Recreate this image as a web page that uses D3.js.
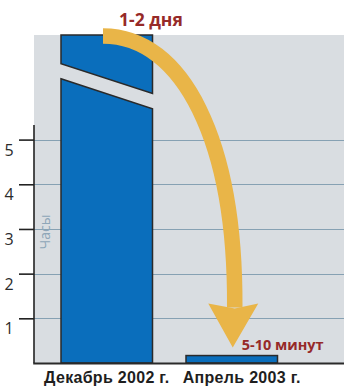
<!DOCTYPE html>
<html>
<head>
<meta charset="utf-8">
<script src="https://cdn.jsdelivr.net/npm/d3@7"></script>
<style>
  html, body { margin: 0; padding: 0; background: #fff; }
  svg { display: block; }
</style>
</head>
<body>
<svg id="chart" width="344" height="387"></svg>
<script>
// Время обработки: декабрь 2002 г. против апреля 2003 г. (в часах)
const categories = ["Декабрь 2002 г.", "Апрель 2003 г."];
const hours = [48, 10 / 60];           // 1-2 дня (столбец с разрывом) и 5-10 минут
const valueLabels = ["1-2 дня", "5-10 минут"];
const tickValues = [1, 2, 3, 4, 5];
const axisTitle = "Часы";

const svg = d3.select("#chart");
const W = 344;
const panelLeft = 34, panelTop = 35, baseY = 363;

const y = d3.scaleLinear().domain([0, 5]).range([baseY, 139.6]);
const yTop = y.invert(panelTop);                 // верх видимой области в часах

const x = d3.scaleBand()
  .domain(categories)
  .range([61, 61 + 125 * (2 - 0.268)])
  .paddingInner(0.268)
  .paddingOuter(0);

// серый фон
svg.append("rect")
  .attr("x", panelLeft).attr("y", panelTop)
  .attr("width", W - panelLeft).attr("height", baseY - panelTop)
  .attr("fill", "#d9dde1");

// линии сетки
svg.append("g").selectAll("line").data(tickValues).join("line")
  .attr("x1", panelLeft).attr("x2", W)
  .attr("y1", d => Math.round(y(d)) + 0.5).attr("y2", d => Math.round(y(d)) + 0.5)
  .attr("stroke", "#86a1b3").attr("stroke-width", 1.2);

// столбцы
const barStyle = sel => sel.attr("fill", "#0a6ebc").attr("stroke", "#2a2a2a")
  .attr("stroke-width", 1.5).attr("stroke-linejoin", "miter");

categories.forEach((c, i) => {
  const x0 = x(c), x1 = x(c) + x.bandwidth();
  const v = Math.min(hours[i], yTop);
  if (hours[i] > yTop) {
    // столбец с разрывом: верхний фрагмент и нижний фрагмент
    const brkL = 6.7, brkR = 6.03, gap = 0.34;
    svg.append("path").call(barStyle)
      .attr("d", `M${x0},${y(v)}L${x1},${y(v)}L${x1},${y(brkR)}L${x0},${y(brkL)}Z`);
    svg.append("path").call(barStyle)
      .attr("d", `M${x0},${y(brkL - gap)}L${x1},${y(brkR - gap)}L${x1},${y(0)}L${x0},${y(0)}Z`);
  } else {
    svg.append("rect").call(barStyle)
      .attr("x", x0).attr("y", y(v))
      .attr("width", x1 - x0).attr("height", y(0) - y(v));
  }
});

// ось Y
const axis = d3.axisLeft(y).tickValues(tickValues).tickSize(15).tickFormat(d3.format("d"));
const gAxis = svg.append("g").attr("transform", `translate(${panelLeft},0)`).call(axis);
gAxis.select(".domain").remove();
gAxis.selectAll(".tick line").attr("stroke", "#222").attr("stroke-width", 1.6);
gAxis.selectAll(".tick text")
  .attr("x", -25).attr("y", 10).attr("dy", "0.35em")
  .attr("text-anchor", "middle")
  .attr("fill", "#2b2b2b")
  .style("font-family", "'Open Sans', 'Noto Sans', sans-serif")
  .style("font-size", "16px");

svg.append("line")
  .attr("x1", panelLeft).attr("x2", panelLeft)
  .attr("y1", 125).attr("y2", baseY)
  .attr("stroke", "#222").attr("stroke-width", 1.6);

// базовая линия
svg.append("line")
  .attr("x1", panelLeft - 0.8).attr("x2", W)
  .attr("y1", baseY + 0.5).attr("y2", baseY + 0.5)
  .attr("stroke", "#2a2a2a").attr("stroke-width", 2.2);

// подпись оси
svg.append("text")
  .attr("transform", `translate(50,232) rotate(-90)`)
  .attr("text-anchor", "middle")
  .attr("fill", "#8ea6b8")
  .style("font-family", "'Open Sans', 'Noto Sans', sans-serif")
  .style("font-size", "14px")
  .text(axisTitle);

// подписи категорий
svg.append("g").selectAll("text").data(categories).join("text")
  .attr("x", (d, i) => x(d) + x.bandwidth() / 2 + (i ? 10 : 0))
  .attr("y", 383)
  .attr("text-anchor", "middle")
  .attr("fill", "#1e1e1e")
  .style("font-family", "'Liberation Sans', Arial, sans-serif")
  .style("font-weight", "bold")
  .style("font-size", "16px")
  .style("letter-spacing", "0.3px")
  .text(d => d);

// изогнутая стрелка от первого столбца ко второму
const sx = x(categories[0]) + 42, sy = y(yTop) + 1;
const tx = x(categories[1]) + x.bandwidth() / 2 + 1, ty = y(hours[1]) - 8;
const headBase = ty - 44, headHalf = 24.5;
svg.append("path")
  .attr("d", `M${sx},${sy}C${sx + 80},${sy} ${tx + 3},${sy + 105} ${tx + 2},${headBase + 4}`)
  .attr("fill", "none")
  .attr("stroke", "#e9b548")
  .attr("stroke-width", 15.5);
svg.append("path")
  .attr("d", `M${tx - headHalf},${headBase}L${tx + 2},${headBase + 5}L${tx + headHalf + 1},${headBase}L${tx},${ty}Z`)
  .attr("fill", "#e9b548");

// подписи значений
const redStyle = sel => sel.attr("fill", "#962a28")
  .style("font-family", "'Open Sans', 'Noto Sans', sans-serif")
  .style("font-weight", "bold");
svg.append("text").call(redStyle)
  .attr("x", sx + 16).attr("y", 26)
  .style("font-size", "17.5px")
  .text(valueLabels[0]);
svg.append("text").call(redStyle)
  .attr("x", x(categories[1]) + x.bandwidth() / 2 + 10).attr("y", y(hours[1]) - 6)
  .style("font-size", "14.5px")
  .text(valueLabels[1]);
</script>
</body>
</html>
